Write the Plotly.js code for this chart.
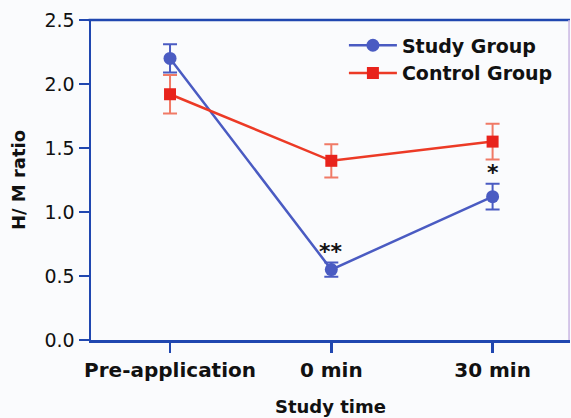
<!DOCTYPE html>
<html>
<head>
<meta charset="utf-8">
<script src="https://cdn.plot.ly/plotly-3.0.1.min.js"></script>
<style>html,body{margin:0;padding:0;background:#fafbfd;}#chart{width:571px;height:418px;}</style>
</head>
<body>
<div id="chart"></div>
<script>
const categories = ["Pre-application", "0 min", "30 min"];
const studyValues = [2.20, 0.55, 1.12];
const studyErrors = [0.11, 0.055, 0.10];
const controlValues = [1.92, 1.40, 1.55];
const controlErrors = [0.15, 0.13, 0.14];
const significance = ["", "**", "*"];
const yTicks = [0, 0.5, 1.0, 1.5, 2.0, 2.5];
const yTickLabels = ["0.0", "0.5", "1.0", "1.5", "2.0", "2.5"];

const FONT = "DejaVu Sans, Liberation Sans, Arial, sans-serif";
const xIdx = categories.map((c, i) => i);

const studyTrace = {
  x: xIdx, y: studyValues, name: "Study Group", type: "scatter", mode: "lines+markers",
  line: {color: "#4a5bc2", width: 2.5},
  marker: {symbol: "circle", size: 13, color: "#4a5bc2"},
  error_y: {type: "data", array: studyErrors, visible: true, color: "#4a5bc2", thickness: 2, width: 7}
};
const controlTrace = {
  x: xIdx, y: controlValues, name: "Control Group", type: "scatter", mode: "lines+markers",
  line: {color: "#ec3a26", width: 2.5},
  marker: {symbol: "square", size: 12, color: "#e8231c"},
  error_y: {type: "data", array: controlErrors, visible: true, color: "#f07a66", thickness: 2, width: 7}
};

const annotations = [];
significance.forEach((s, i) => {
  if (s) {
    annotations.push({
      x: i, y: studyValues[i] + studyErrors[i], yref: "y", xref: "x",
      text: "<b>" + s + "</b>", showarrow: false, yanchor: "bottom", yshift: -3,
      font: {family: FONT, size: 22, color: "#111"}
    });
  }
});

const layout = {
  width: 571, height: 418,
  margin: {l: 91, r: 1, t: 20, b: 78},
  paper_bgcolor: "#fafbfd", plot_bgcolor: "#fafbfd",
  font: {family: FONT, color: "#111"},
  showlegend: true,
  legend: {
    x: 0.528, y: 0.98, xanchor: "left", yanchor: "top",
    bgcolor: "rgba(0,0,0,0)",
    font: {size: 19, family: FONT, weight: "bold", color: "#111"},
    tracegroupgap: 0, itemwidth: 48, entrywidth: 0
  },
  xaxis: {
    range: [-0.49, 2.48], tickvals: xIdx, ticktext: categories,
    showgrid: false, zeroline: false, showline: true, linecolor: "#2047b0", linewidth: 2.5,
    ticks: "outside", ticklen: 10, tickwidth: 2.5, tickcolor: "#2047b0",
    tickfont: {size: 20, weight: "bold", color: "#111"},
    title: {text: "<b>Study time</b>", font: {size: 18, color: "#111"}, standoff: 20}
  },
  yaxis: {
    range: [0, 2.5], tickvals: yTicks, ticktext: yTickLabels,
    showgrid: false, zeroline: false, showline: true, linecolor: "#2047b0", linewidth: 2.5,
    ticks: "outside", ticklen: 10, tickwidth: 2.5, tickcolor: "#2047b0",
    tickfont: {size: 19, color: "#111"},
    title: {text: "<b>H/ M ratio</b>", font: {size: 18, color: "#111"}, standoff: 14}
  },
  shapes: [
    {type: "line", xref: "paper", yref: "paper", x0: -0.005, x1: 1.0, y0: 1, y1: 1, line: {color: "#2047b0", width: 2.5}},
    {type: "line", xref: "paper", yref: "paper", x0: 0.998, x1: 0.998, y0: 0, y1: 1, line: {color: "#c9b6e2", width: 1.5}}
  ],
  annotations: annotations
};

Plotly.newPlot("chart", [studyTrace, controlTrace], layout, {displayModeBar: false, staticPlot: true});
</script>
</body>
</html>
